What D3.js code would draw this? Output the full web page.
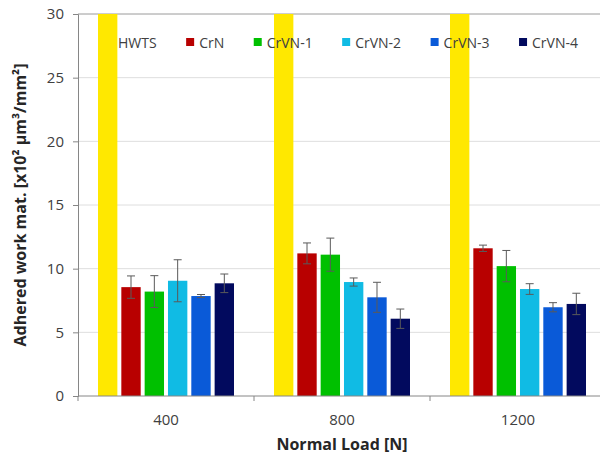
<!DOCTYPE html>
<html><head><meta charset="utf-8">
<script src="https://cdn.jsdelivr.net/npm/d3@7"></script>
<style>html,body{margin:0;padding:0;background:#fff;}</style>
</head><body>
<svg id="chart" width="600" height="455"></svg>
<script>
const loads = ["400", "800", "1200"];
const seriesNames = ["HWTS", "CrN", "CrVN-1", "CrVN-2", "CrVN-3", "CrVN-4"];
const seriesColors = ["#ffe800", "#b80000", "#00c000", "#10bbe4", "#0a5ad8", "#020a5e"];
// values per series, in order of loads (HWTS exceeds the axis and is clipped)
const HWTS   = [40, 40, 40];
const CrN    = [8.55, 11.2, 11.6];
const CrVN1  = [8.2, 11.1, 10.2];
const CrVN2  = [9.05, 8.95, 8.4];
const CrVN3  = [7.85, 7.75, 6.97];
const CrVN4  = [8.85, 6.07, 7.23];
// error half-widths
const errHWTS  = [0, 0, 0];
const errCrN   = [0.88, 0.82, 0.25];
const errCrVN1 = [1.25, 1.3, 1.23];
const errCrVN2 = [1.65, 0.32, 0.42];
const errCrVN3 = [0.12, 1.18, 0.36];
const errCrVN4 = [0.73, 0.76, 0.84];
const yTicks = [0, 5, 10, 15, 20, 25, 30];

(function () {
const values = [HWTS, CrN, CrVN1, CrVN2, CrVN3, CrVN4];
const errors = [errHWTS, errCrN, errCrVN1, errCrVN2, errCrVN3, errCrVN4];

const svg = d3.select("#chart");
const pl = 78, pr = 606, pt = 14, pb = 396;
const font = "'Open Sans', sans-serif";

const x0 = d3.scaleBand().domain(loads).range([pl, pr]).padding(0);
const gpad = 20;
const x1 = d3.scaleBand().domain(seriesNames).range([gpad, x0.bandwidth() - gpad]).paddingInner(0.17).paddingOuter(0);
const y = d3.scaleLinear().domain([0, 30]).range([pb, pt]);

// gridlines
svg.append("g").selectAll("line").data(yTicks.filter(t => t > 0)).join("line")
  .attr("x1", pl).attr("x2", 600)
  .attr("y1", d => y(d)).attr("y2", d => y(d))
  .attr("stroke", d => d === 30 ? "#9a9a9a" : "#dedede").attr("stroke-width", 1);

// clip
svg.append("clipPath").attr("id", "plotclip").append("rect")
  .attr("x", pl).attr("y", pt).attr("width", pr - pl).attr("height", pb - pt);

const groups = svg.append("g").attr("clip-path", "url(#plotclip)")
  .selectAll("g").data(loads).join("g")
  .attr("transform", d => `translate(${x0(d)},0)`);

groups.each(function(load, li) {
  const g = d3.select(this);
  seriesNames.forEach((s, si) => {
    const v = values[si][li];
    g.append("rect")
      .attr("x", x1(s)).attr("width", x1.bandwidth())
      .attr("y", y(v)).attr("height", y(0) - y(v))
      .attr("fill", seriesColors[si]);
    const e = errors[si][li];
    if (e > 0) {
      const cxm = x1(s) + x1.bandwidth() / 2;
      const eg = g.append("g").attr("stroke", "#5a5a5a").attr("stroke-width", 1);
      eg.append("line").attr("x1", cxm).attr("x2", cxm).attr("y1", y(v + e)).attr("y2", y(v - e));
      eg.append("line").attr("x1", cxm - 4).attr("x2", cxm + 4).attr("y1", y(v + e)).attr("y2", y(v + e));
      eg.append("line").attr("x1", cxm - 4).attr("x2", cxm + 4).attr("y1", y(v - e)).attr("y2", y(v - e));
    }
  });
});

// legend (drawn on top of bars)
const leg = svg.append("g").attr("font-family", font).attr("font-size", 14).attr("fill", "#404040");
let cx = 105;
seriesNames.forEach((n, i) => {
  leg.append("rect").attr("x", cx).attr("y", 38).attr("width", 8).attr("height", 8).attr("fill", seriesColors[i]);
  const t = leg.append("text").attr("x", cx + 13).attr("y", 47.5).text(n);
  cx += 13 + t.node().getComputedTextLength() + 29.5;
});

// y axis
const ya = svg.append("g").attr("transform", `translate(${pl},0)`)
  .call(d3.axisLeft(y).tickValues(yTicks).tickSize(5).tickPadding(9));
ya.select(".domain").attr("stroke", "#868686");
ya.selectAll(".tick line").attr("stroke", "#868686");
ya.selectAll(".tick text").attr("font-family", font).attr("font-size", 15).attr("fill", "#404040");

// x axis
const xa = svg.append("g").attr("transform", `translate(0,${pb})`);
xa.append("line").attr("x1", pl).attr("x2", 600).attr("y1", 0).attr("y2", 0).attr("stroke", "#868686");
xa.selectAll("line.tk").data(loads.slice(1)).join("line").attr("class", "tk")
  .attr("x1", d => x0(d)).attr("x2", d => x0(d)).attr("y1", 0).attr("y2", 5).attr("stroke", "#868686");
xa.append("line").attr("x1", pl).attr("x2", pl).attr("y1", 0).attr("y2", 5).attr("stroke", "#868686");
xa.selectAll("text").data(loads).join("text")
  .attr("x", d => x0(d) + x0.bandwidth() / 2).attr("y", 29)
  .attr("text-anchor", "middle").attr("font-family", font).attr("font-size", 15).attr("fill", "#404040")
  .text(d => d);

// axis titles
svg.append("text").attr("x", (pl + pr) / 2).attr("y", 450).attr("text-anchor", "middle")
  .attr("font-family", font).attr("font-size", 16).attr("font-weight", "bold").attr("fill", "#262626")
  .text("Normal Load [N]");
svg.append("text").attr("transform", `translate(26,${(pt + pb) / 2}) rotate(-90)`).attr("text-anchor", "middle")
  .attr("font-family", font).attr("font-size", 16).attr("font-weight", "bold").attr("fill", "#262626")
  .text("Adhered work mat. [x10² µm³/mm²]");
})();
</script>
</body></html>
